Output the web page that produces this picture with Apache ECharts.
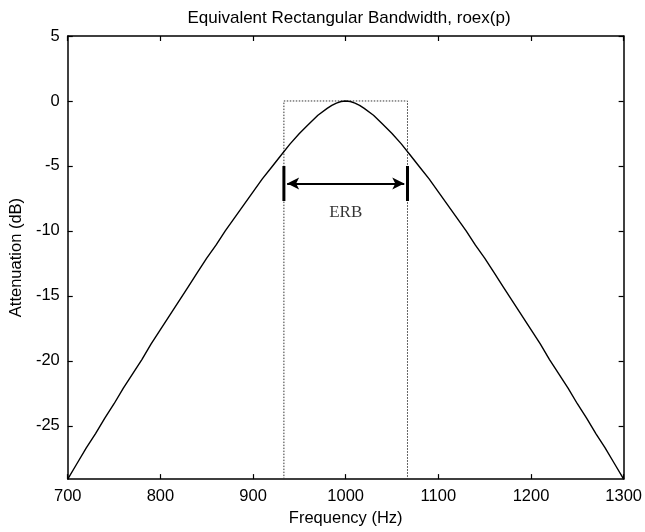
<!DOCTYPE html>
<html>
<head>
<meta charset="utf-8">
<script src="https://cdn.jsdelivr.net/npm/echarts@6/dist/echarts.min.js"></script>
<style>
html,body{margin:0;padding:0;background:#fff;}
#chart{width:645px;height:532px;}
</style>
</head>
<body>
<div id="chart"></div>
<script>
var titleText = 'Equivalent Rectangular Bandwidth, roex(p)';
var xName = 'Frequency (Hz)';
var yName = 'Attenuation (dB)';
var xTicks = [700, 800, 900, 1000, 1100, 1200, 1300];
var yTicks = [-25, -20, -15, -10, -5, 0, 5];
var yMin = -29.1;
var yMax = 5;

var freqs = [700,710,720,730,740,750,760,770,780,790,800,810,820,830,840,850,860,870,880,890,900,910,920,930,940,950,960,970,980,985,990,995,1000,
  1005,1010,1015,1020,1030,1040,1050,1060,1070,1080,1090,1100,1110,1120,1130,1140,1150,1160,1170,1180,1190,1200,1210,1220,1230,1240,1250,1260,1270,1280,1290,1300];
var atten = [-29.1,-27.9,-26.7,-25.6,-24.4,-23.3,-22.1,-21.0,-19.9,-18.7,-17.6,-16.5,-15.4,-14.3,-13.2,-12.1,-11.1,-10.0,-9.0,-8.0,-7.0,-6.0,-5.1,-4.2,-3.3,-2.5,-1.8,-1.1,-0.57,-0.34,-0.16,-0.04,0,
  -0.04,-0.16,-0.34,-0.57,-1.1,-1.8,-2.5,-3.3,-4.2,-5.1,-6.0,-7.0,-8.0,-9.0,-10.0,-11.1,-12.1,-13.2,-14.3,-15.4,-16.5,-17.6,-18.7,-19.9,-21.0,-22.1,-23.3,-24.4,-25.6,-26.7,-27.9,-29.1];

var erbEdges = [933.3, 1066.7];
var erbLevel = 0;
var barRange = [-5.0, -7.7];
var arrowLevel = -6.35;
var erbLabel = 'ERB';
var erbLabelPos = [1000, -8.6];

var curve = freqs.map(function (f, i) { return [f, atten[i]]; });
var rect = [[erbEdges[0], yMin], [erbEdges[0], erbLevel], [erbEdges[1], erbLevel], [erbEdges[1], yMin]];

var chart = echarts.init(document.getElementById('chart'), null, {renderer: 'canvas'});
var font = 'Liberation Sans';
var plain = function (v) { return String(v); };
var axisCommon = {
  axisLine: {show: true, onZero: false, lineStyle: {color: '#000', width: 1.5}},
  splitLine: {show: false}
};
chart.setOption({
  animation: false,
  backgroundColor: '#fff',
  title: {
    text: titleText, left: 344, top: 5, textAlign: 'center',
    textStyle: {fontFamily: font, fontSize: 17, fontWeight: 'normal', color: '#000'}
  },
  grid: {left: 61, right: 19, top: 36, bottom: 49, containLabel: false},
  xAxis: [
    Object.assign({
      type: 'value', min: 700, max: 1300, interval: 100, position: 'bottom',
      name: xName, nameLocation: 'middle', nameGap: 30,
      nameTextStyle: {fontFamily: font, fontSize: 16.5, color: '#000'},
      axisTick: {show: true, inside: true, length: 5, lineStyle: {color: '#000', width: 1.2}},
      axisLabel: {fontFamily: font, fontSize: 16.5, color: '#000', margin: 9, customValues: xTicks, formatter: plain}
    }, axisCommon),
    Object.assign({
      type: 'value', min: 700, max: 1300, interval: 100, position: 'top',
      axisTick: {show: true, inside: true, length: 5, lineStyle: {color: '#000', width: 1.2}},
      axisLabel: {show: false}
    }, axisCommon)
  ],
  yAxis: [
    Object.assign({
      type: 'value', min: yMin, max: yMax, position: 'left',
      name: yName, nameLocation: 'middle', nameGap: 33, nameRotate: 90,
      nameTextStyle: {fontFamily: font, fontSize: 16.5, color: '#000'},
      axisTick: {show: true, inside: true, length: 5, customValues: yTicks, lineStyle: {color: '#000', width: 1.2}},
      axisLabel: {fontFamily: font, fontSize: 16.5, color: '#000', margin: 8, customValues: yTicks, formatter: plain}
    }, axisCommon),
    Object.assign({
      type: 'value', min: yMin, max: yMax, position: 'right',
      axisTick: {show: true, inside: true, length: 5, customValues: yTicks, lineStyle: {color: '#000', width: 1.2}},
      axisLabel: {show: false}
    }, axisCommon)
  ],
  series: [
    {
      type: 'line', data: rect, showSymbol: false, symbol: 'none', silent: true,
      lineStyle: {color: '#333', width: 1, type: [1.5, 1.5]}
    },
    {
      type: 'line', data: curve, showSymbol: false, symbol: 'none', smooth: false,
      lineStyle: {color: '#000', width: 1.4}
    },
    {
      type: 'line', data: [[erbEdges[0], barRange[0]], [erbEdges[0], barRange[1]]], symbol: 'none',
      lineStyle: {color: '#000', width: 3}
    },
    {
      type: 'line', data: [[erbEdges[1], barRange[0]], [erbEdges[1], barRange[1]]], symbol: 'none',
      lineStyle: {color: '#000', width: 3}
    },
    {
      type: 'line', data: [], symbol: 'none',
      markLine: {
        silent: true, symbol: ['arrow', 'arrow'], symbolSize: [9, 12],
        label: {show: false},
        lineStyle: {color: '#000', width: 1.8, type: 'solid'},
        data: [[{coord: [erbEdges[0] + 3.5, arrowLevel]}, {coord: [erbEdges[1] - 3.5, arrowLevel]}]]
      }
    },
    {
      type: 'scatter', data: [erbLabelPos], symbolSize: 0,
      label: {show: true, position: 'inside', formatter: erbLabel,
        fontFamily: 'Liberation Serif', fontSize: 17, color: '#000'}
    }
  ]
});
</script>
</body>
</html>
